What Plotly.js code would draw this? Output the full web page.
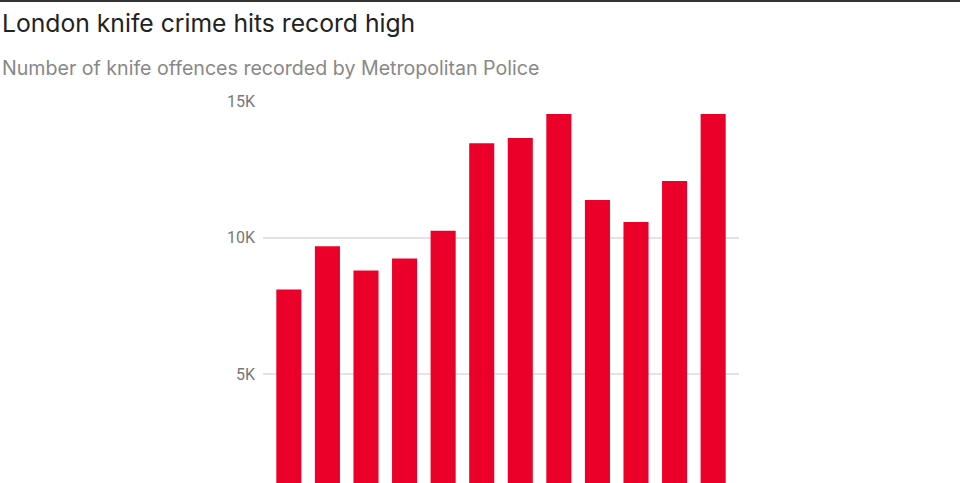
<!DOCTYPE html>
<html>
<head>
<meta charset="utf-8">
<script src="https://cdn.plot.ly/plotly-3.0.1.min.js"></script>
<style>
  html, body { margin: 0; padding: 0; background: #fff; overflow: hidden; }
  body { border-top: 2px solid #333; width: 960px; }
  #chart { width: 960px; height: 559px; }
</style>
</head>
<body>
<div id="chart"></div>
<script>
// Years (the x labels fall below the visible window in the reference)
const YEARS = ['2008', '2009', '2010', '2011', '2012', '2013',
               '2014', '2015', '2016', '2017', '2018', '2019'];

const OFFENCES = [8100, 9690, 8800, 9240, 10250, 13450,
                  13650, 14520, 11380, 10570, 12070, 14520];

const Y_TICKS = [5000, 10000, 15000];
const Y_TICK_LABELS = ['5K', '10K', '15K'];

const TITLE = 'London knife crime hits record high';
const SUBTITLE = 'Number of knife offences recorded by Metropolitan Police';

const BAR_COLOR = '#eb0029';

// plot area in px, used to place the header text
const M_LEFT = 263;
const M_TOP = 99;
const PLOT_W = 476;
const PLOT_H = 410;

let trace = {
  type: 'bar',
  x: YEARS,
  y: OFFENCES,
  marker: {color: BAR_COLOR, line: {width: 0}},
  hoverinfo: 'x+y',
  showlegend: false
};

let layout = {
  width: 960,
  height: 559,
  margin: {l: M_LEFT, r: 960 - M_LEFT - PLOT_W, t: M_TOP, b: 559 - M_TOP - PLOT_H},
  paper_bgcolor: '#fff',
  plot_bgcolor: '#fff',
  bargap: 0.35,
  font: {family: 'Roboto, sans-serif'},
  xaxis: {
    type: 'category',
    range: [-0.67, 11.67],
    showgrid: false,
    zeroline: false,
    showline: false,
    showticklabels: false,
    ticks: ''
  },
  yaxis: {
    range: [0, 15000],
    tickvals: Y_TICKS,
    ticktext: Y_TICK_LABELS,
    showgrid: true,
    gridcolor: '#e3e3e3',
    gridwidth: 2,
    zeroline: false,
    showline: false,
    ticks: '',
    ticklabelstandoff: 7,
    tickfont: {family: 'Roboto, sans-serif', size: 16, color: '#777'}
  },
  annotations: [
    {
      text: TITLE,
      xref: 'paper', yref: 'paper',
      x: -M_LEFT / PLOT_W, y: 1 + (M_TOP - 21) / PLOT_H,
      xanchor: 'left', yanchor: 'middle',
      showarrow: false,
      font: {family: 'Inter, sans-serif', size: 24.7, color: '#222'}
    },
    {
      text: SUBTITLE,
      xref: 'paper', yref: 'paper',
      x: -M_LEFT / PLOT_W, y: 1 + (M_TOP - 66) / PLOT_H,
      xanchor: 'left', yanchor: 'middle',
      showarrow: false,
      font: {family: 'Inter, sans-serif', size: 19.6, color: '#888'}
    }
  ]
};

Plotly.newPlot('chart', [trace], layout, {displayModeBar: false, staticPlot: true});
</script>
</body>
</html>
